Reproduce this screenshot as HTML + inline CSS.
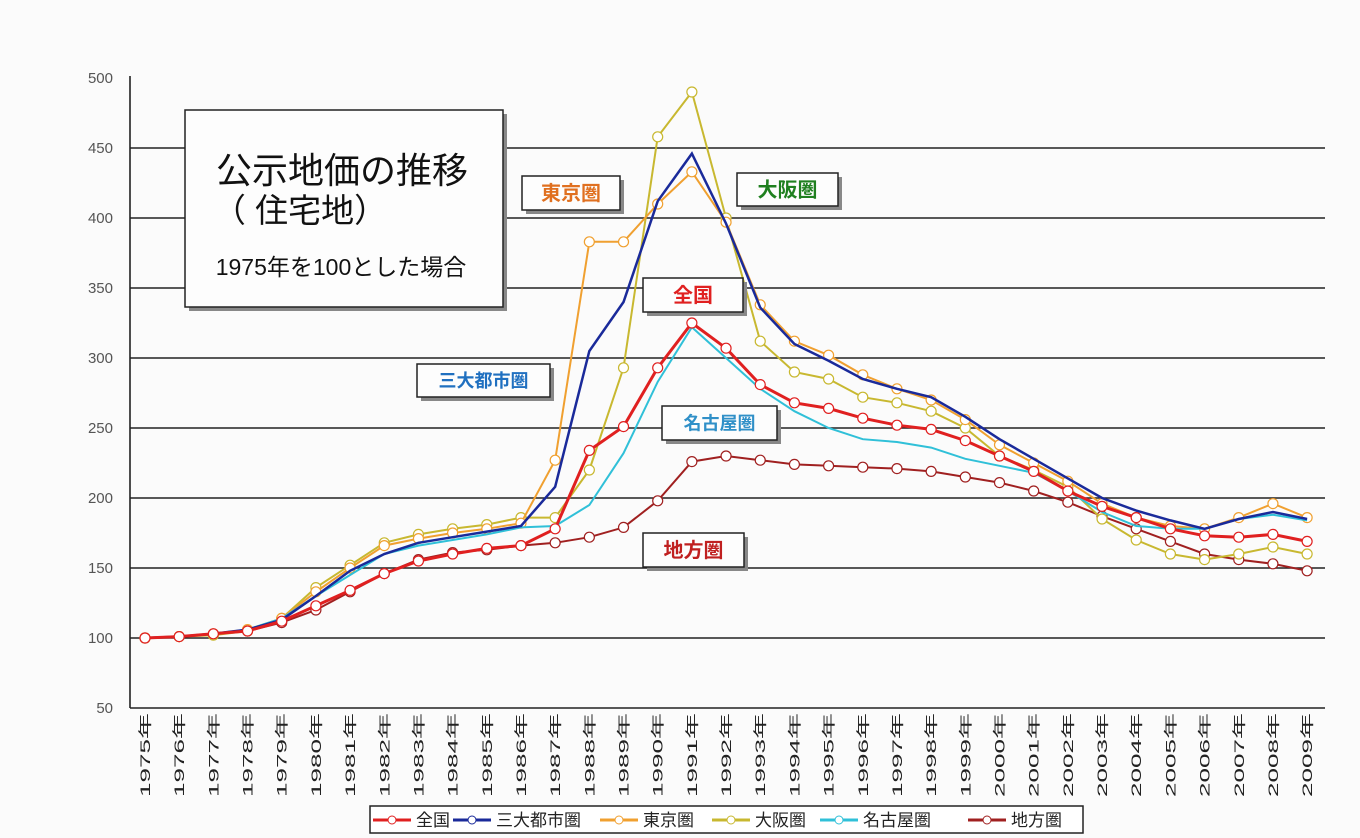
<!DOCTYPE html>
<html><head><meta charset="utf-8"><style>
html,body{margin:0;padding:0;background:#fbfbfb;}
svg{display:block;}
text{font-family:"Liberation Sans","Noto Sans CJK JP",sans-serif;}
</style></head><body>
<svg id="c" width="1360" height="838" xmlns="http://www.w3.org/2000/svg"></svg>
<script>
const s=document.getElementById('c');let h='';
const X=i=>145+i*34.18, Y=v=>708-(v-50)*1.4;
for(let v=100;v<=450;v+=50){h+=`<line x1="130" x2="1325" y1="${Y(v)}" y2="${Y(v)}" stroke="#222" stroke-width="1.6"/>`;}
h+=`<line x1="130" x2="1325" y1="708" y2="708" stroke="#222" stroke-width="1.6"/>`;
h+=`<line x1="130" x2="130" y1="76" y2="708" stroke="#222" stroke-width="1.6"/>`;
for(let v=50;v<=500;v+=50){h+=`<text x="113" y="${Y(v)+5}" font-size="15" fill="#555" text-anchor="end">${v}</text>`;}
for(let i=0;i<35;i++){h+=`<text transform="translate(${X(i)+5},${797}) rotate(-90)" font-size="13.5" fill="#222" textLength="84" lengthAdjust="spacingAndGlyphs">${1975+i}年</text>`;}
const D={
zenkoku:["#e02020",3,[100,101,103,105,112,123,134,146,155,160,164,166,178,234,251,293,325,307,281,268,264,257,252,249,241,230,219,205,194,186,178,173,172,174,169]],
sandai:["#1a2a9a",2.5,[100,101,103,106,113,130,148,160,168,172,176,180,208,305,340,412,446,396,336,310,298,285,278,272,258,242,228,214,200,191,184,178,185,190,185]],
tokyo:["#f0a030",2,[100,101,103,106,114,133,150,166,171,175,178,182,227,383,383,410,433,397,338,312,302,288,278,270,256,238,225,212,196,186,180,178,186,196,186]],
osaka:["#c8b830",2,[100,101,102,105,114,136,152,168,174,178,181,186,186,220,293,458,490,400,312,290,285,272,268,262,250,230,220,208,185,170,160,156,160,165,160]],
nagoya:["#30c0d8",2,[100,101,103,106,114,130,145,160,166,170,174,179,180,195,232,283,322,300,278,262,250,242,240,236,228,223,218,205,190,180,178,178,185,188,184]],
chiho:["#a02020",2,[100,101,103,105,111,120,133,146,156,161,163,166,168,172,179,198,226,230,227,224,223,222,221,219,215,211,205,197,187,178,169,160,156,153,148]]};
for(const k of ['chiho','osaka','tokyo','nagoya','sandai','zenkoku']){const [c,w,a]=D[k];
h+=`<polyline fill="none" stroke="${c}" stroke-width="${w}" points="${a.map((v,i)=>X(i)+','+Y(v)).join(' ')}"/>`;
if(k!='sandai'&&k!='nagoya')a.forEach((v,i)=>{h+=`<circle cx="${X(i)}" cy="${Y(v)}" r="5" fill="#fff" stroke="${c}" stroke-width="1.2"/>`;});}
function box(x,y,w,hh,t,col,fs){h+=`<rect x="${x+4}" y="${y+4}" width="${w}" height="${hh}" fill="#888"/><rect x="${x}" y="${y}" width="${w}" height="${hh}" fill="#fdfdfd" stroke="#222" stroke-width="1.5"/><text x="${x+w/2}" y="${y+hh/2+fs*0.36}" font-size="${fs}" fill="${col}" text-anchor="middle" font-weight="bold">${t}</text>`;}
box(185,110,318,197,'','#000',10);
h+=`<text x="342" y="183" font-size="36" text-anchor="middle" fill="#111">公示地価の推移</text><text x="300" y="222" font-size="33" text-anchor="middle" fill="#111">（ 住宅地）</text><text x="341" y="275" font-size="23" text-anchor="middle" fill="#111">1975年を100とした場合</text>`;
box(522,176,98,34,'東京圏','#e07020',20);
box(737,173,101,33,'大阪圏','#208020',20);
box(643,278,100,34,'全国','#e02020',20);
box(417,364,133,33,'三大都市圏','#2070c0',18);
box(662,406,115,34,'名古屋圏','#3090c8',18);
box(643,533,101,34,'地方圏','#c02020',20);
h+=`<rect x="370" y="806" width="713" height="27" fill="#fff" stroke="#222" stroke-width="1.5"/>`;
const L=[['全国','#e02020',373],['三大都市圏','#1a2a9a',453],['東京圏','#f0a030',600],['大阪圏','#c8b830',712],['名古屋圏','#30c0d8',820],['地方圏','#a02020',968]];
L.forEach(([t,c,x])=>{h+=`<line x1="${x}" x2="${x+38}" y1="820" y2="820" stroke="${c}" stroke-width="3"/><circle cx="${x+19}" cy="820" r="4" fill="#fff" stroke="${c}"/><text x="${x+43}" y="826" font-size="17" fill="#222">${t}</text>`;});
s.innerHTML=h;
</script>
</body></html>
